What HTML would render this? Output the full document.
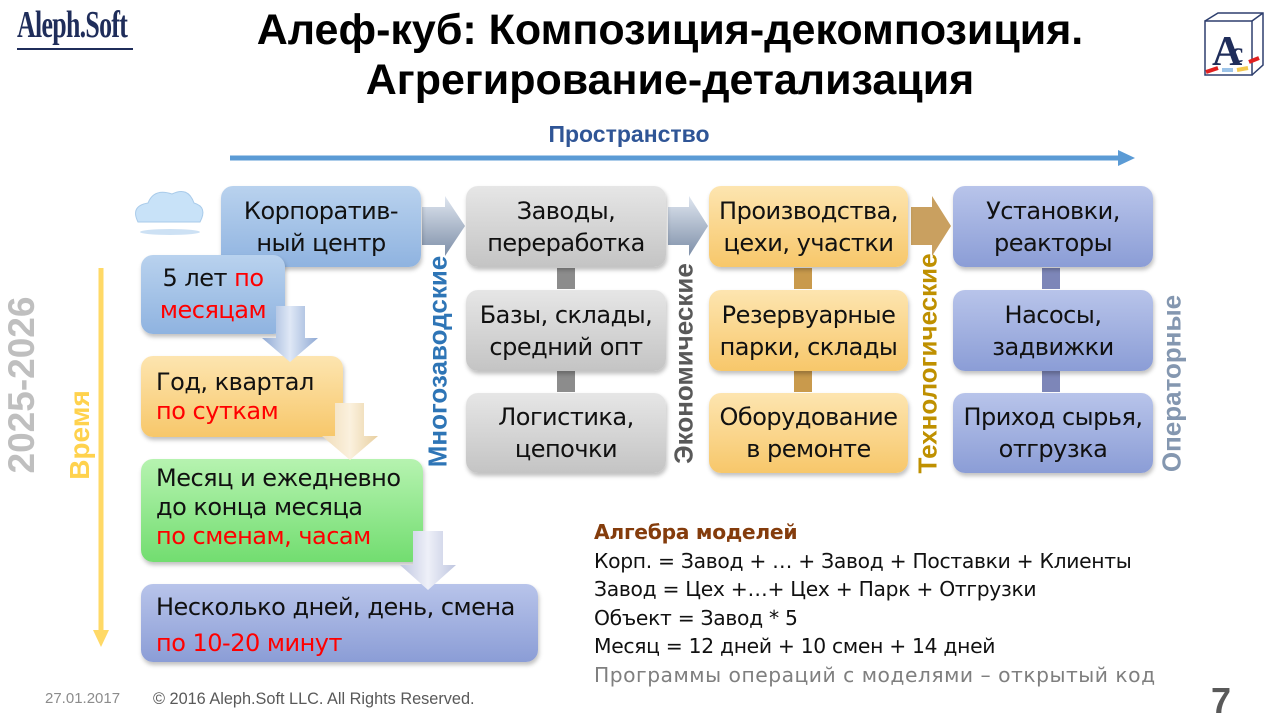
<!DOCTYPE html>
<html><head><meta charset="utf-8"><style>
body{margin:0;width:1280px;height:720px;background:#fff;position:relative;overflow:hidden;font-family:"Liberation Sans","DejaVu Sans",sans-serif}
.a{position:absolute}
.b{position:absolute;border-radius:12px;display:flex;align-items:center;justify-content:center;text-align:center;font-size:24px;line-height:32px;color:#111;box-shadow:1px 3px 4px rgba(0,0,0,.25);font-family:"DejaVu Sans","Liberation Sans",sans-serif;letter-spacing:-0.5px}
.blue{background:linear-gradient(#b9d2ee,#8fb3e0)}
.grey{background:linear-gradient(#e6e6e6,#c4c4c4)}
.or{background:linear-gradient(#fde5b0,#f7c76a)}
.vi{background:linear-gradient(#b8c4ea,#8b9dd6)}
.gr{background:linear-gradient(#b6f3b0,#72dd70)}
.l{text-align:left;padding-left:15px;box-sizing:border-box;display:block}
.r{color:#f00}
.v{position:absolute;transform:rotate(-90deg);transform-origin:center;font-weight:bold;font-size:26px;white-space:nowrap;text-align:center}
.alg{position:absolute;left:594px;font-size:20.3px;font-family:"DejaVu Sans","Liberation Sans",sans-serif;color:#111;letter-spacing:-0.3px}
</style></head><body>
<div class="a" style="left:17px;top:3px;font-family:'Liberation Serif',serif;font-weight:bold;font-size:38px;color:#1f2d5a;letter-spacing:-1px;transform:scaleX(.68);transform-origin:left;line-height:44px;white-space:nowrap">Aleph.Soft</div>
<div class="a" style="left:17px;top:48px;width:116px;height:2px;background:#1f2d5a"></div>
<div class="a" style="left:140px;top:5px;width:1060px;text-align:center;font-weight:bold;font-size:43px;line-height:50px;color:#000">Алеф-куб: Композиция-декомпозиция.<br>Агрегирование-детализация</div>
<svg class="a" style="left:1200px;top:10px" width="65" height="70"><rect x="5" y="11" width="47" height="54" fill="none" stroke="#2e3f6e" stroke-width="1.5"/><path d="M5 11 L18 3 L63 3 L63 55 L52 65 M52 11 L63 3" fill="none" stroke="#2e3f6e" stroke-width="1.5"/><text x="12" y="55" font-family="Liberation Serif" font-size="42" font-weight="bold" fill="#1f2d5a">A</text><text x="30" y="52" font-family="Liberation Serif" font-size="30" font-weight="bold" fill="#1f2d5a">c</text><path d="M6 62 L18 58 M49 52 L59 48" stroke-width="4" stroke="#e02020"/><path d="M22 60 L33 60" stroke="#9cc3e8" stroke-width="4"/><path d="M37 60 L48 58" stroke="#f4c84c" stroke-width="4"/></svg>

<div class="a" style="left:509px;top:121px;width:240px;text-align:center;font-weight:bold;font-size:23px;color:#2f5596">Пространство</div>
<svg class="a" style="left:0;top:0" width="1280" height="720">
<defs><linearGradient id="ag" x1="0" y1="0" x2="0" y2="1"><stop offset="0" stop-color="#dfe6f0"/><stop offset="1" stop-color="#7e8fa8"/></linearGradient>
<linearGradient id="dg" x1="0" y1="0" x2="1" y2="0"><stop offset="0" stop-color="#8fa9d4"/><stop offset=".5" stop-color="#dfe8f6"/><stop offset="1" stop-color="#8fa9d4"/></linearGradient>
<linearGradient id="dy" x1="0" y1="0" x2="1" y2="0"><stop offset="0" stop-color="#f0dcb8"/><stop offset=".5" stop-color="#fbf1de"/><stop offset="1" stop-color="#e8cfa0"/></linearGradient>
<linearGradient id="dv" x1="0" y1="0" x2="1" y2="0"><stop offset="0" stop-color="#bfc6e0"/><stop offset=".5" stop-color="#eef0f8"/><stop offset="1" stop-color="#bfc6e0"/></linearGradient></defs>
<line x1="230" y1="158" x2="1120" y2="158" stroke="#5b9bd5" stroke-width="5"/><polygon points="1118,150 1135,158 1118,166" fill="#5b9bd5"/>
<line x1="101" y1="268" x2="101" y2="632" stroke="#ffd966" stroke-width="5"/><polygon points="93,630 101,647 109,630" fill="#ffd966"/>
<g fill="url(#ag)"><polygon points="422,207 445,207 445,196 465,226 445,256 445,245 422,245"/>
<polygon points="668,207 689,207 689,196 708,226 689,256 689,245 668,245"/></g>
<polygon points="911,207 932,207 932,196 951,226 932,256 932,245 911,245" fill="#c9a060"/>
<g fill="#8c8c8c"><rect x="557" y="268" width="18" height="21"/><rect x="557" y="371" width="18" height="21"/></g>
<g fill="#c99a4c"><rect x="794" y="268" width="18" height="21"/><rect x="794" y="371" width="18" height="21"/></g>
<g fill="#7d86b8"><rect x="1042" y="268" width="18" height="21"/><rect x="1042" y="371" width="18" height="21"/></g>
<ellipse cx="170" cy="232" rx="30" ry="3" fill="#b8d4f0" opacity=".7"/>
<path d="M138 222 Q130 206 148 203 Q154 188 172 194 Q188 186 194 203 Q208 207 200 222 Z" fill="#c8e2f8" stroke="#a9cbea"/>
</svg>
<div class="b blue" style="left:221px;top:186px;width:200px;height:81px">Корпоратив-<br>ный центр</div>
<div class="b grey" style="left:466px;top:186px;width:200px;height:81px">Заводы,<br>переработка</div>
<div class="b or" style="left:709px;top:186px;width:199px;height:81px">Производства,<br>цехи, участки</div>
<div class="b vi" style="left:953px;top:186px;width:200px;height:81px">Установки,<br>реакторы</div>
<div class="b grey" style="left:466px;top:290px;width:200px;height:81px">Базы, склады,<br>средний опт</div>
<div class="b or" style="left:709px;top:290px;width:199px;height:81px">Резервуарные<br>парки, склады</div>
<div class="b vi" style="left:953px;top:290px;width:200px;height:81px">Насосы,<br>задвижки</div>
<div class="b grey" style="left:466px;top:393px;width:200px;height:80px">Логистика,<br>цепочки</div>
<div class="b or" style="left:709px;top:393px;width:199px;height:80px">Оборудование<br>в ремонте</div>
<div class="b vi" style="left:953px;top:393px;width:200px;height:80px">Приход сырья,<br>отгрузка</div>

<div class="b blue" style="left:141px;top:255px;width:144px;height:79px;display:block;padding-top:7px;box-sizing:border-box">5 лет <span class="r">по</span><br><span class="r">месяцам</span></div>
<div class="b or l" style="left:141px;top:356px;width:202px;height:81px;padding-top:12px;line-height:29px">Год, квартал<br><span class="r">по суткам</span></div>
<div class="b gr l" style="left:141px;top:459px;width:282px;height:103px;padding-top:5px;line-height:29px">Месяц и ежедневно<br>до конца месяца<br><span class="r">по сменам, часам</span></div>
<div class="b vi l" style="left:141px;top:584px;width:397px;height:78px;padding-top:5px;line-height:36px">Несколько дней, день, смена<br><span class="r">по 10-20 минут</span></div>

<svg class="a" style="left:0;top:0" width="1280" height="720">
<polygon points="276,306 305,306 305,338 318,338 290,362 262,338 276,338" fill="url(#dg)"/>
<polygon points="335,403 364,403 364,436 378,436 350,460 322,436 335,436" fill="url(#dy)"/>
<polygon points="413,531 443,531 443,565 456,565 428,590 400,565 413,565" fill="url(#dv)"/>
</svg>

<div class="v" style="left:328px;top:346px;width:220px;color:#2e75b6">Многозаводские</div>
<div class="v" style="left:574px;top:348px;width:220px;color:#595959">Экономические</div>
<div class="v" style="left:818px;top:348px;width:220px;color:#bf9000">Технологические</div>
<div class="v" style="left:1082px;top:368px;width:180px;color:#8497b0">Операторные</div>
<div class="v" style="left:30px;top:419px;width:100px;color:#ffd24d;font-size:28px">Время</div>
<div class="v" style="left:-78px;top:364px;width:200px;color:#bfbfbf;font-size:37px">2025-2026</div>

<div class="alg" style="top:520px;font-weight:bold;color:#843c0c">Алгебра моделей</div>
<div class="alg" style="top:549px">Корп. = Завод + … + Завод + Поставки + Клиенты</div>
<div class="alg" style="top:577px">Завод = Цех +…+ Цех + Парк + Отгрузки</div>
<div class="alg" style="top:606px">Объект = Завод * 5</div>
<div class="alg" style="top:634px">Месяц = 12 дней + 10 смен + 14 дней</div>
<div class="alg" style="top:663px;color:#7f7f7f;letter-spacing:0.5px">Программы операций с моделями – открытый код</div>

<div class="a" style="left:45px;top:690px;font-size:15px;color:#8c8c8c">27.01.2017</div>
<div class="a" style="left:153px;top:690px;font-size:16.3px;color:#595959">© 2016 Aleph.Soft LLC. All Rights Reserved.</div>
<div class="a" style="left:1211px;top:680px;font-size:36px;font-weight:bold;color:#595959">7</div>
</body></html>
